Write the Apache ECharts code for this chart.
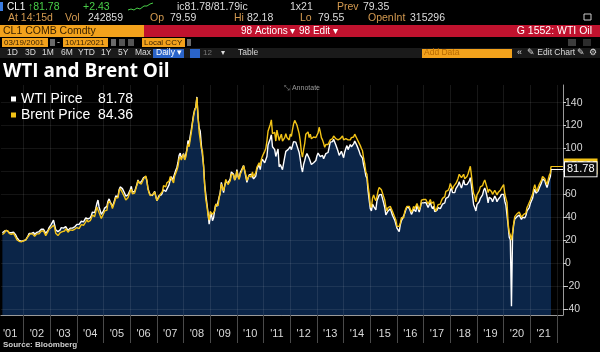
<!DOCTYPE html>
<html><head><meta charset="utf-8">
<script src="https://cdn.jsdelivr.net/npm/echarts@6/dist/echarts.min.js"></script>
<style>html,body{margin:0;padding:0;background:#000;}#c{width:600px;height:352px;}</style>
</head><body><div id="c"></div>
<script>
// ---- data (semi-monthly readings: 1st and 16th of each month) ----
const startYear = 2001;
const startHalfMonth = 5; // 2001-03-16
const lastDateX = 2021.775; // 2021-10-11
const wtiLast = 81.78;
const brentLast = 84.36;
const seriesNames = ['WTI Pirce', 'Brent Price'];

const wtiValues = [
/*2001*/ 26.5, 26.5,28.0, 28.8,28.5, 27.9,26.8, 26.0,26.5, 27.5,27.0, 27.8,24.5, 22.5,21.8, 19.8,18.8, 19.2,19.8,
/*2002*/ 19.5,20.0, 20.3,21.2, 23.5,25.8, 26.5,25.8, 27.0,26.8, 25.0,26.0, 26.8,27.0, 27.5,29.0, 29.5,30.0, 29.5,28.0, 26.0,26.8, 28.5,31.0,
/*2003*/ 32.0,33.8, 35.5,37.5, 36.0,29.0, 28.5,27.5, 27.5,29.0, 31.0,30.5, 30.5,31.0, 31.8,31.5, 28.5,27.8, 30.5,30.2, 30.5,31.0, 31.5,32.5,
/*2004*/ 33.8,34.8, 33.8,35.0, 36.5,37.5, 36.0,37.0, 39.5,41.0, 38.5,37.5, 39.5,41.5, 44.5,46.0, 44.0,47.5, 52.0,55.0, 49.0,48.0, 42.5,43.5,
/*2005*/ 45.5,48.0, 46.5,49.5, 54.0,56.0, 53.5,51.5, 49.0,50.5, 55.0,58.5, 59.0,58.0, 64.0,66.5, 65.5,65.0, 63.5,61.0, 58.5,57.5, 59.5,59.0,
/*2006*/ 64.0,67.0, 62.0,61.0, 62.5,63.5, 68.5,72.5, 70.0,71.0, 71.0,70.5, 74.5,74.0, 75.5,71.5, 65.0,62.0, 59.5,58.5, 59.0,59.5, 62.5,61.5,
/*2007*/ 54.5,54.0, 59.0,60.5, 59.5,61.5, 64.0,64.5, 62.5,64.5, 66.0,68.5, 72.5,75.5, 72.0,71.0, 78.0,81.0, 83.5,88.0, 94.0,96.0, 91.5,93.5,
/*2008*/ 95.5,90.5, 92.0,99.0, 107.0,104.0, 111.0,116.5, 123.0,129.5, 134.0,136.0, 145.0,127.0, 118.0,115.0, 103.0,104.0, 85.0,68.5, 60.0,52.0, 44.0,34.0,
/*2009*/ 40.0,43.5, 37.0,39.5, 46.5,51.5, 49.5,49.5, 57.5,61.5, 70.5,69.5, 61.5,67.5, 71.0,70.5, 70.0,69.5, 73.5,79.5, 78.5,77.5, 72.5,74.5,
/*2010*/ 81.5,76.0, 73.5,79.0, 81.0,81.5, 85.0,84.5, 75.5,70.5, 74.0,77.0, 75.5,77.5, 79.0,73.5, 75.0,76.0, 82.0,82.5, 86.0,81.5, 88.5,90.5,
/*2011*/ 90.5,87.5, 86.5,93.0, 103.0,102.5, 108.5,112.0, 101.5,100.0, 99.0,93.0, 96.5,99.5, 84.0,86.0, 87.5,81.5, 81.5,92.5, 97.5,98.0, 99.0,99.0,
/*2012*/ 101.5,99.0, 98.5,106.0, 106.5,105.5, 102.5,103.5, 96.5,90.5, 83.5,79.5, 86.0,89.5, 93.5,95.5, 97.0,91.5, 91.5,86.0, 85.5,87.5, 86.5,89.5,
/*2013*/ 93.5,96.0, 97.0,93.0, 92.0,94.0, 91.0,90.5, 95.5,94.5, 96.5,98.0, 105.5,106.0, 106.0,108.0, 108.0,103.0, 102.5,97.5, 94.0,93.5, 97.5,98.5,
/*2014*/ 92.0,97.0, 100.0,102.5, 99.0,100.0, 103.5,101.5, 100.5,104.0, 106.5,106.0, 102.5,102.0, 97.5,94.5, 93.0,91.5, 85.5,81.5, 76.0,74.0, 63.0,55.0,
/*2015*/ 47.5,45.5, 51.5,49.5, 48.5,46.5, 54.5,56.0, 59.5,58.5, 60.0,59.5, 52.5,48.5, 42.0,40.5, 45.5,45.0, 47.5,44.5, 41.5,41.5, 37.5,36.5,
/*2016*/ 30.5,30.0, 27.5,33.5, 37.0,39.0, 38.0,43.5, 46.5,49.0, 49.5,48.0, 45.5,42.5, 44.5,47.0, 45.5,45.0, 50.5,49.5, 44.5,48.5, 52.5,52.5,
/*2017*/ 52.5,53.0, 53.0,54.0, 48.5,48.0, 53.0,49.5, 47.5,49.5, 45.0,43.5, 46.0,48.5, 48.5,47.5, 49.5,51.5, 51.5,52.5, 56.5,58.0, 57.5,59.5,
/*2018*/ 63.5,65.5, 61.5,63.0, 61.5,65.0, 66.5,68.0, 71.0,68.0, 65.5,68.5, 72.5,68.5, 67.0,68.5, 69.0,71.5, 74.5,67.5, 58.5,51.0, 48.5,45.5,
/*2019*/ 51.0,52.5, 53.5,56.5, 57.0,59.5, 63.5,65.5, 62.5,58.5, 52.5,57.5, 58.0,56.0, 53.5,55.0, 58.5,56.5, 53.5,55.5, 56.5,58.0, 60.0,61.5,
/*2020*/ 60.0,54.0, 50.5,50.0, 33.0,22.5, 20.3,-37.6, 24.5,33.5, 38.5,39.5, 40.5,41.5, 42.0,42.5, 38.0,40.0, 40.5,39.5, 41.5,45.5, 46.5,48.5,
/*2021*/ 52.0,52.5, 56.5,61.5, 64.5,61.0, 59.5,63.0, 65.5,66.0, 70.0,73.5, 75.0,72.0, 68.5,66.0, 69.5,73.0, 75.5
];

const brentValues = [
/*2001*/ 25.0, 25.0,26.5, 28.5,28.0, 28.0,26.0, 24.5,25.0, 26.5,26.0, 27.0,22.5, 20.5,20.5, 19.0,18.5, 18.5,19.5,
/*2002*/ 19.5,19.5, 20.0,20.5, 23.0,24.5, 25.5,25.0, 25.5,25.0, 23.5,24.5, 25.5,25.5, 25.5,26.5, 28.0,28.5, 28.0,26.5, 24.0,24.5, 27.5,29.5,
/*2003*/ 30.5,31.0, 32.5,33.0, 31.0,26.0, 25.5,24.0, 25.0,26.5, 28.0,27.5, 28.5,28.0, 30.0,29.5, 27.0,26.5, 29.0,29.5, 28.5,29.0, 29.5,30.0,
/*2004*/ 31.0,31.5, 30.0,30.5, 33.5,33.5, 33.0,33.0, 36.0,38.0, 36.0,35.0, 37.0,39.0, 42.0,43.0, 40.5,44.5, 49.0,50.5, 44.0,42.5, 39.0,40.0,
/*2005*/ 43.0,45.5, 44.0,46.0, 52.0,54.0, 53.0,51.0, 47.5,48.5, 53.5,57.0, 57.5,57.0, 63.0,65.0, 63.5,61.5, 60.0,57.5, 55.0,54.5, 57.0,57.5,
/*2006*/ 62.5,64.5, 60.5,60.0, 61.0,62.5, 68.0,72.0, 70.0,70.0, 69.0,69.5, 73.5,75.0, 76.0,72.5, 64.5,61.0, 59.0,58.5, 59.5,59.5, 62.0,61.0,
/*2007*/ 54.5,53.5, 57.5,60.0, 60.5,62.5, 67.5,67.5, 66.5,70.0, 70.5,71.5, 75.5,76.5, 72.0,70.0, 76.0,78.5, 81.0,84.5, 91.0,93.0, 90.0,93.0,
/*2008*/ 95.0,90.0, 92.5,98.5, 104.0,101.5, 108.0,114.0, 122.0,128.0, 133.5,135.5, 144.5,129.0, 114.5,113.5, 100.0,98.0, 84.5,68.0, 55.5,50.0, 42.0,37.5,
/*2009*/ 45.0,45.0, 42.5,43.0, 45.5,51.5, 51.0,50.0, 57.0,61.0, 69.0,68.5, 63.0,67.5, 73.0,72.5, 68.5,68.0, 72.0,77.5, 77.5,77.0, 72.5,75.5,
/*2010*/ 80.5,75.5, 73.0,77.5, 79.5,80.5, 85.0,85.0, 77.0,72.0, 73.5,76.5, 75.5,75.0, 79.5,75.5, 77.0,79.0, 83.5,83.0, 87.5,84.5, 90.5,93.5,
/*2011*/ 95.5,97.5, 100.0,106.5, 115.0,114.5, 121.0,125.0, 113.0,112.5, 114.0,106.5, 116.0,117.0, 107.0,110.0, 112.5,106.5, 105.5,109.5, 113.0,109.5, 108.0,107.5,
/*2012*/ 112.5,110.5, 116.5,121.5, 124.5,124.5, 120.5,119.5, 113.0,106.5, 97.0,92.5, 99.0,104.5, 112.5,113.5, 114.5,109.5, 112.5,108.5, 108.5,110.0, 108.5,109.5,
/*2013*/ 111.5,113.5, 118.5,114.5, 109.5,107.5, 104.5,101.0, 103.5,102.5, 103.5,103.5, 107.5,107.5, 108.5,111.0, 112.5,108.5, 109.5,107.5, 106.5,108.5, 110.0,111.0,
/*2014*/ 107.5,107.0, 108.5,110.0, 107.5,106.5, 107.5,109.5, 108.0,110.0, 112.5,114.0, 108.5,107.5, 104.5,102.5, 100.0,98.0, 91.5,86.5, 79.5,77.5, 67.5,60.5,
/*2015*/ 50.5,48.5, 56.5,59.5, 56.5,54.5, 58.0,63.0, 66.0,64.5, 64.0,63.0, 58.0,55.0, 49.0,45.5, 48.5,47.5, 49.5,48.0, 45.0,44.5, 40.0,37.5,
/*2016*/ 32.0,30.5, 32.0,35.0, 39.5,40.5, 39.5,45.0, 47.5,49.5, 50.5,49.5, 47.0,44.5, 46.5,49.5, 47.5,46.5, 52.0,51.0, 46.5,49.0, 55.0,55.0,
/*2017*/ 55.5,55.5, 55.5,56.0, 51.5,51.0, 55.5,52.0, 50.5,53.5, 47.5,45.5, 48.0,51.0, 52.0,51.5, 54.5,56.5, 57.5,58.0, 62.5,63.5, 63.5,65.5,
/*2018*/ 69.5,69.5, 64.5,67.0, 65.5,69.5, 71.5,74.0, 77.5,77.5, 74.5,74.0, 77.5,73.5, 72.5,75.5, 78.0,79.5, 84.5,76.5, 67.0,60.5, 58.5,53.5,
/*2019*/ 59.5,61.0, 63.0,66.5, 66.0,67.5, 70.5,72.5, 72.0,66.0, 61.5,64.5, 66.0,62.5, 60.0,59.5, 63.5,64.5, 59.5,61.5, 62.5,63.5, 65.5,66.5,
/*2020*/ 68.5,60.5, 56.5,53.0, 34.5,27.0, 24.5,20.0, 26.5,34.5, 40.5,42.0, 43.0,44.0, 44.5,45.5, 40.0,41.5, 42.5,41.5, 43.5,48.5, 50.5,51.5,
/*2021*/ 55.0,55.5, 60.0,65.0, 68.5,64.5, 62.5,66.0, 68.5,68.5, 72.5,75.5, 76.5,73.5, 71.0,68.5, 72.5,76.5, 78.5
];

const yTickValues = [-40, -20, 0, 20, 40, 60, 80, 100, 120, 140];
const yearBoundaries = [2002,2003,2004,2005,2006,2007,2008,2009,2010,2011,2012,2013,2014,2015,2016,2017,2018,2019,2020,2021,2022];
const yearLabelValues = [2001.5,2002.5,2003.5,2004.5,2005.5,2006.5,2007.5,2008.5,2009.5,2010.5,2011.5,2012.5,2013.5,2014.5,2015.5,2016.5,2017.5,2018.5,2019.5,2020.5,2021.5];

// ---- build series data ----
function toPoints(values, last) {
  const pts = values.map((v, i) => [startYear + (startHalfMonth + i) / 24, v]);
  pts.push([lastDateX, last]);
  return pts;
}
const wtiData = toPoints(wtiValues, wtiLast);
const brentData = toPoints(brentValues, brentLast);
const lastValues = { 'WTI Pirce': wtiLast, 'Brent Price': brentLast };

const X_MIN = 2001.154, X_MAX = 2022.224;
const Y_MIN = -45.3, Y_MAX = 155.4;
const WHITE = '#ffffff', GOLD = '#f3c316', NAVY = '#0b2548';
const FONT = 'Liberation Sans, Arial, sans-serif';
const TAN = '#d49a50', TXT = '#dcdcdc', ORANGE = '#f3a21c', RED = '#c0122e';

function T(x, y, text, fill, size, extra) {
  return Object.assign({ type: 'text', x: x, y: y, silent: true,
    style: Object.assign({ text: text, fill: fill, font: (size || 10) + 'px ' + FONT, textVerticalAlign: 'middle' }, extra || {}) });
}
function R(x, y, w, h, fill) {
  return { type: 'rect', silent: true, shape: { x: x, y: y, width: w, height: h }, style: { fill: fill } };
}

const chrome = [
  R(0, 2, 3, 9, '#3a7be0'),
  T(7, 7, 'CL1', '#ffffff', 10),
  T(28, 7, '\u219181.78', '#49cf49', 10.5),
  T(83, 7, '+2.43', '#49cf49', 10.5),
  { type: 'polyline', silent: true, shape: { points: [[128,10],[131,9],[134,10],[137,8],[140,9],[144,6],[147,6],[150,4],[153,3]] }, style: { stroke: '#49cf49', lineWidth: 1, fill: null } },
  T(177, 7, 'ic81.78/81.79ic', TXT, 10.5),
  T(290, 7, '1x21', TXT, 10.5),
  T(337, 7, 'Prev', TAN, 10.5),
  T(363, 7, '79.35', TXT, 10.5),
  T(8, 18, 'At 14:15d', TAN, 10.5),
  T(65, 18, 'Vol', TAN, 10.5),
  T(88, 18, '242859', TXT, 10.5),
  T(150, 18, 'Op', TAN, 10.5),
  T(170, 18, '79.59', TXT, 10.5),
  T(234, 18, 'Hi', TAN, 10.5),
  T(247, 18, '82.18', TXT, 10.5),
  T(300, 18, 'Lo', TAN, 10.5),
  T(318, 18, '79.55', TXT, 10.5),
  T(368, 18, 'OpenInt', TAN, 10.5),
  T(410, 18, '315296', TXT, 10.5),
  { type: 'rect', silent: true, shape: { x: 584, y: 14, width: 7, height: 6 }, style: { fill: null, stroke: '#cccccc', lineWidth: 1 } },
  R(0, 25, 144, 12, ORANGE),
  R(144, 25, 456, 12, RED),
  T(3, 31, 'CL1 COMB Comdty', '#3a2200', 10.5),
  T(241, 31, '98 Actions \u25BE', '#ffffff', 10),
  T(299, 31, '98 Edit \u25BE', '#ffffff', 10),
  T(592, 31, 'G 1552: WTI Oil', '#ffffff', 10.5, { textAlign: 'right' }),
  R(2, 38, 46, 9, ORANGE), T(4, 42.5, '03/19/2001', '#3a2200', 8),
  R(50, 39, 5, 7, '#6a6a6a'), T(57, 42.5, '-', TXT, 9),
  R(63, 38, 45, 9, ORANGE), T(65, 42.5, '10/11/2021', '#3a2200', 8),
  R(111, 39, 5, 7, '#6a6a6a'), R(119, 39, 6, 7, '#555555'), R(128, 39, 6, 7, '#555555'),
  R(142, 38, 43, 9, ORANGE), T(144, 42.5, 'Local CCY', '#3a2200', 8),
  R(187, 39, 4, 7, '#6a6a6a'),
  R(568, 39, 8, 7, '#3c3c3c'), R(583, 39, 8, 7, '#2c2c2c'),
  R(0, 48, 600, 10, '#1a1a1a'),
  T(7, 53, '1D', TXT, 8.5), T(25, 53, '3D', TXT, 8.5), T(42, 53, '1M', TXT, 8.5), T(61, 53, '6M', TXT, 8.5),
  T(78, 53, 'YTD', TXT, 8.5), T(101, 53, '1Y', TXT, 8.5), T(118, 53, '5Y', TXT, 8.5), T(135, 53, 'Max', TXT, 8.5),
  R(153, 49, 31, 9, '#2a64c9'), T(156, 53, 'Daily \u25BE', '#ffffff', 8.5),
  R(190, 49, 10, 9, '#2a64c9'), T(203, 53, '12', '#777777', 8), T(221, 53, '\u25BE', TXT, 8),
  T(238, 53, 'Table', TXT, 8.5),
  R(422, 49, 90, 9, ORANGE), T(424, 53, 'Add Data', '#b86a00', 8.5),
  T(517, 53, '\u00AB', TXT, 9), T(527, 53, '\u270E Edit Chart', TXT, 8.5), T(577, 53, '\u270E', TXT, 8.5), T(589, 53, '\u2699', TXT, 8.5),
  T(284, 88, '\u2921 Annotate', '#9a9a9a', 7),
  T(3, 345, 'Source: Bloomberg', '#d0d0d0', 8, { font: 'bold 8px ' + FONT })
];

function endMark(value, lineColor, boxBg, boxText, z) {
  return {
    silent: true, symbol: 'none', animation: false, z: z,
    lineStyle: { color: lineColor, width: 1, type: 'solid' },
    label: { show: true, position: 'end', distance: 2, formatter: value.toFixed(2),
      color: boxText, backgroundColor: boxBg, borderColor: lineColor, borderWidth: 1,
      padding: [2, 2, 1, 2], fontSize: 11, fontFamily: FONT },
    data: [[{ coord: [lastDateX, value] }, { coord: [X_MAX, value] }]]
  };
}

const chart = echarts.init(document.getElementById('c'), null, { renderer: 'canvas' });
chart.setOption({
  backgroundColor: '#000000',
  animation: false,
  title: { text: 'WTI and Brent Oil', left: 3, top: 62, padding: 0,
    textStyle: { color: '#ffffff', fontSize: 19, fontWeight: 'bold', fontFamily: 'Open Sans, sans-serif' } },
  legend: {
    orient: 'vertical', left: 11, top: 92, padding: 0, itemGap: 2, itemWidth: 5, itemHeight: 5, icon: 'rect',
    data: seriesNames,
    formatter: name => '{n|' + name + '}{v|' + lastValues[name].toFixed(2) + '}',
    textStyle: { color: '#ffffff', fontSize: 14, fontFamily: FONT,
      rich: { n: { width: 77, fontSize: 14, color: '#ffffff', fontFamily: FONT }, v: { fontSize: 14, color: '#ffffff', fontFamily: FONT } } }
  },
  grid: { left: 0, right: 37, top: 85, bottom: 37, containLabel: false },
  xAxis: {
    type: 'value', min: X_MIN, max: X_MAX, z: 3,
    axisLine: { show: true, onZero: false, lineStyle: { color: '#9a9a9a', width: 1 } },
    axisTick: { show: true, customValues: yearBoundaries, length: 28, lineStyle: { color: '#4a4a4a' } },
    axisLabel: { customValues: yearLabelValues, color: '#d8d8d8', fontSize: 11, fontFamily: FONT, margin: 13,
      formatter: v => "'" + String(Math.floor(v)).slice(2) },
    splitLine: { show: true, lineStyle: { color: 'rgba(255,255,255,0.09)' } }
  },
  yAxis: {
    type: 'value', position: 'right', min: Y_MIN, max: Y_MAX, z: 3,
    axisLine: { show: true, onZero: false, lineStyle: { color: '#9a9a9a', width: 1 } },
    axisTick: { show: true, customValues: yTickValues, length: 3, lineStyle: { color: '#cccccc' } },
    axisLabel: { customValues: yTickValues, color: '#d8d8d8', fontSize: 10.5, fontFamily: FONT, margin: 2 },
    splitLine: { show: true, lineStyle: { color: 'rgba(255,255,255,0.08)' } }
  },
  graphic: chrome,
  series: [
    { name: seriesNames[0], type: 'line', data: wtiData, symbol: 'none', showSymbol: false, z: 2,
      lineStyle: { color: WHITE, width: 1.4 }, itemStyle: { color: WHITE },
      areaStyle: { color: NAVY, opacity: 1, origin: 'start' },
      markLine: endMark(wtiLast, WHITE, '#0a0a0a', '#ffffff', 12) },
    { name: seriesNames[1], type: 'line', data: brentData, symbol: 'none', showSymbol: false, z: 2,
      lineStyle: { color: GOLD, width: 1.4 }, itemStyle: { color: GOLD },
      markLine: endMark(brentLast, GOLD, GOLD, '#000000', 11) }
  ]
});
</script></body></html>
